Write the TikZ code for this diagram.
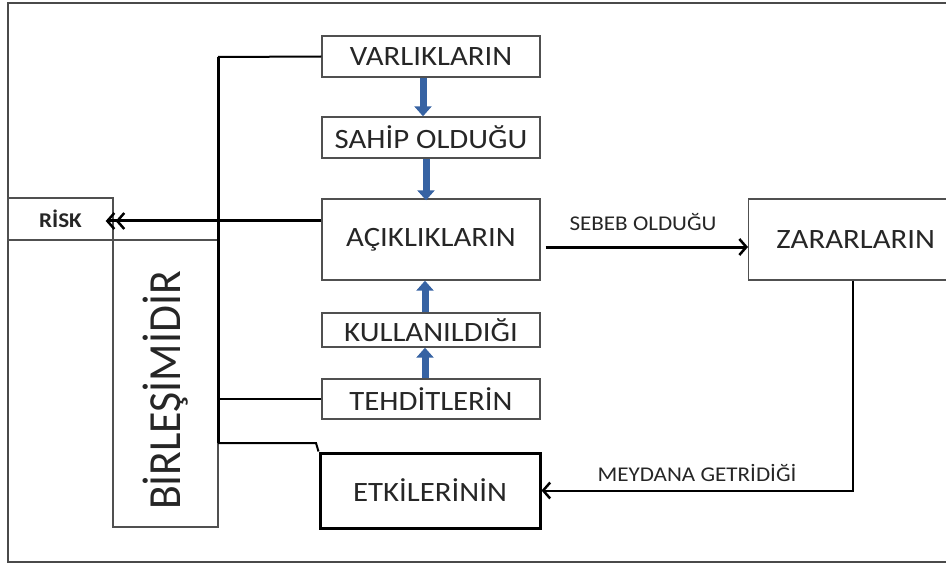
\documentclass[tikz,border=0pt]{standalone}
\usepackage{fontspec}
\setmainfont{Carlito}[FakeStretch=1.1]
\newfontfamily\rotfont{Carlito}[FakeStretch=0.95]
\usetikzlibrary{arrows.meta}
\definecolor{boxline}{HTML}{505050}
\definecolor{frameline}{HTML}{4A4A4A}
\definecolor{txt}{HTML}{262626}
\definecolor{bluearr}{HTML}{3763A3}
\begin{document}
\begin{tikzpicture}[x=1pt,y=-1pt,
  box/.style={draw=boxline,line width=1.4pt,inner sep=0pt,text=txt,font=\fontsize{28}{30}\selectfont},
  conn/.style={draw=black,line width=2pt},
  thickconn/.style={draw=black,line width=3pt},
  bluearrow/.style={draw=bluearr,line width=7pt,-{Triangle[length=10pt,width=17pt]}},
  barb/.style={-{Straight Barb[length=7pt,width=16pt,line width=2.5pt]}},
  dbarb/.style={-{Straight Barb[length=7pt,width=16pt,line width=2.5pt] Straight Barb[length=7pt,width=16pt,line width=2.5pt]}},
  lbl/.style={text=txt,font=\fontsize{21}{23}\selectfont,inner sep=0pt},
]
\useasboundingbox (0,0) rectangle (946,567);
\clip (0,0) rectangle (946,567);
% outer frame (right edge cut off)
\draw[frameline,line width=1.6pt] (970,3) -- (8,3) -- (8,562) -- (970,562);

% boxes
\node[box,minimum width=105pt,minimum height=42pt,font=\bfseries\fontsize{21}{23}\selectfont] (risk) at (60.5,219) {RİSK};
\node[box,rotate=90,minimum width=287pt,minimum height=105pt,font=\rotfont\fontsize{46}{48}\selectfont] (birl) at (165.5,383.5) {BİRLEŞİMİDİR\hspace*{14pt}};
\node[box,minimum width=218pt,minimum height=41pt] (varl) at (431,56.5) {VARLIKLARIN};
\node[box,minimum width=218pt,minimum height=41pt] (sahip) at (431,137.5) {SAHİP OLDUĞU};
\node[box,minimum width=218pt,minimum height=81pt] (acik) at (431,239.5) {AÇIKLIKLARIN};
\node[box,minimum width=218pt,minimum height=34pt] (kull) at (431,330) {KULLANILDIĞI};
\node[box,minimum width=218pt,minimum height=40pt] (teh) at (431,399) {TEHDİTLERİN};
\node[box,draw=black,line width=3pt,minimum width=220pt,minimum height=75pt] (etk) at (430,490.5) {ETKİLERİNİN};
\node[box,anchor=west,minimum width=214pt,minimum height=81pt] (zara) at (748,239.5) {ZARARLARIN};

% left collector
\coordinate (jtop) at (218,57);
\coordinate (jbot) at (218,443);
\coordinate (jbend) at (316,443);
\coordinate (rline) at (0,221);
\draw[conn] (varl.west) -- (jtop);
\draw[thickconn] (jtop) -- (jbot);
\draw[conn] (jbot) -- (jbend) -- (etk.north west);
\draw[conn] (teh.west) -- (teh.west -| jtop);
\draw[thickconn,dbarb,shorten >=-8pt] (acik.west |- rline) -- (risk.east |- rline);

% blue arrows
\draw[bluearrow] ([xshift=-8pt]varl.south) -- ([xshift=-8pt]sahip.north);
\draw[bluearrow] ([xshift=-5pt]sahip.south) -- ([xshift=-5pt,yshift=-2pt]acik.north);
\draw[bluearrow] ([xshift=-6pt]kull.north) -- ([xshift=-6pt]acik.south);
\draw[bluearrow] ([xshift=-6pt]teh.north) -- ([xshift=-6pt]kull.south);

% right side
\draw[thickconn,barb] ([xshift=5pt,yshift=-7.5pt]acik.east) -- ([yshift=-7.5pt]zara.west);
\node[lbl] (sebeb) at (643,222) {SEBEB OLDUĞU};
\draw[conn,barb] ([xshift=-3pt]zara.south) |- (etk.east);
\node[lbl] (meydana) at (697,473) {MEYDANA GETRİDİĞİ};
\end{tikzpicture}
\end{document}
